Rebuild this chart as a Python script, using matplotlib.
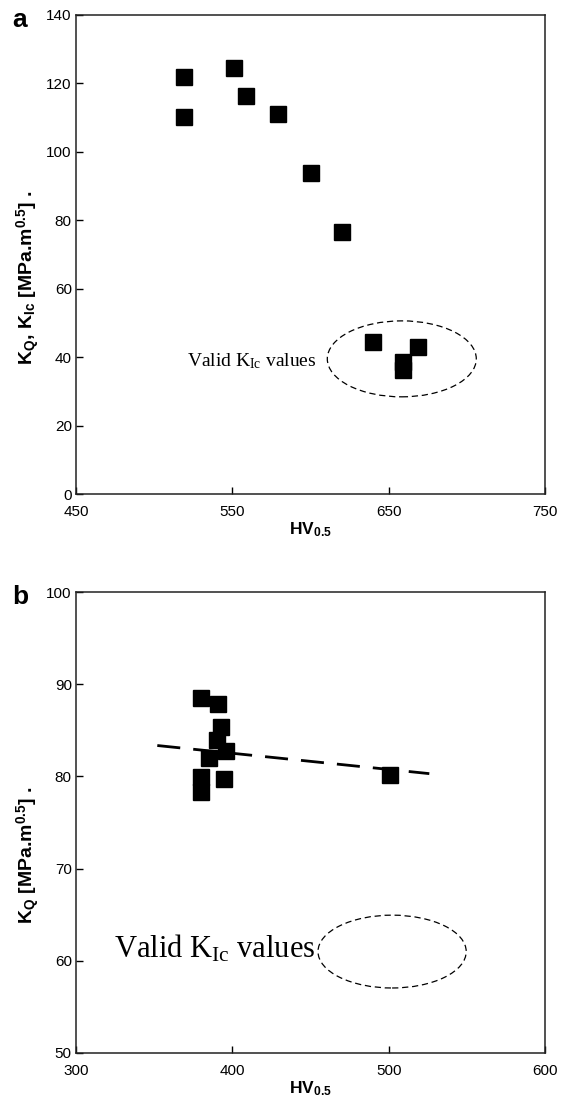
import matplotlib
matplotlib.use("Agg")
import matplotlib.pyplot as plt
from matplotlib.patches import Ellipse

# ---- data ----
hv_a = [519, 519, 551, 559, 579, 600, 620, 640, 659, 659, 669]
k_a = [121.9, 110.2, 124.6, 116.4, 111.1, 93.9, 76.6, 44.4, 38.6, 36.3, 43.0]

hv_b = [380, 391, 393, 390, 396, 385, 380, 380, 394.5, 501]
k_b = [88.5, 87.8, 85.4, 83.9, 82.8, 82.0, 79.9, 78.3, 79.7, 80.2]

fit_x = [352, 526]
fit_y = [83.35, 80.3]

xticks_a = [450, 550, 650, 750]
yticks_a = [0, 20, 40, 60, 80, 100, 120, 140]
xticks_b = [300, 400, 500, 600]
yticks_b = [50, 60, 70, 80, 90, 100]

plt.rcParams['font.family'] = ['Liberation Sans', 'DejaVu Sans']
plt.rcParams['mathtext.fontset'] = 'custom'
plt.rcParams['mathtext.rm'] = 'Liberation Serif'
plt.rcParams['mathtext.bf'] = 'Liberation Sans:bold'
plt.rcParams['mathtext.it'] = 'Liberation Serif:italic'

fig = plt.figure(figsize=(5.61, 11.1), dpi=100)
W, H = 561, 1110
ax1 = fig.add_axes([76 / W, 1 - 494 / H, (545 - 76) / W, (494 - 15) / H])
ax2 = fig.add_axes([76 / W, 1 - 1053 / H, (545 - 76) / W, (1053 - 592) / H])


def style(ax, xt, yt):
    ax.set_xlim(xt[0], xt[-1])
    ax.set_ylim(yt[0], yt[-1])
    ax.set_xticks(xt)
    ax.set_yticks(yt)
    ax.tick_params(direction='in', length=5, width=1.0, labelsize=11,
                   colors='black')
    ax.tick_params(axis='x', pad=8)
    ax.tick_params(axis='y', pad=3)
    for s in ax.spines.values():
        s.set_linewidth(1.1)
        s.set_color('#222222')


style(ax1, xticks_a, yticks_a)
style(ax2, xticks_b, yticks_b)

# panel a
ax1.plot(hv_a, k_a, ls='none', marker='s', ms=11.3, color='black')
ax1.add_patch(Ellipse((658.4, 39.5), 95.3, 22.2, fill=False, ec='black',
                      lw=0.9, ls=(0, (5, 3))))
ax1.text(604.2, 37.4, r'Valid K$_{\mathrm{Ic}}$ values', family='Liberation Serif',
         fontsize=14, ha='right', va='baseline')
ax1.set_xlabel(r'HV$_{\mathbf{0.5}}$', fontsize=12.5, fontweight='bold')
ax1.set_ylabel(r'K$_{\mathbf{Q}}$, K$_{\mathbf{Ic}}$ [MPa.m$^{\mathbf{0.5}}$] .',
               fontsize=14, fontweight='bold')
ax1.yaxis.set_label_coords(-0.072, 0.451)
ax1.xaxis.set_label_coords(0.5, -0.055)
fig.text(20 / W, 1 - 20 / H, 'a', fontsize=19, fontweight='bold', ha='center',
         va='center')

# panel b
ax2.plot(fit_x, fit_y, color='black', lw=2.0, ls=(0, (8.3, 4.7)))
ax2.plot(hv_b, k_b, ls='none', marker='s', ms=12.2, color='black')
ax2.add_patch(Ellipse((502.2, 61.0), 94.8, 7.9, fill=False, ec='black',
                      lw=0.9, ls=(0, (5, 3))))
ax2.text(452.9, 60.4, r'Valid K$_{\mathrm{Ic}}$ values', family='Liberation Serif',
         fontsize=22, ha='right', va='baseline')
ax2.set_xlabel(r'HV$_{\mathbf{0.5}}$', fontsize=12.5, fontweight='bold')
ax2.set_ylabel(r'K$_{\mathbf{Q}}$ [MPa.m$^{\mathbf{0.5}}$] .',
               fontsize=14, fontweight='bold')
ax2.yaxis.set_label_coords(-0.072, 0.43)
ax2.xaxis.set_label_coords(0.5, -0.058)
fig.text(20 / W, 1 - 597 / H, 'b', fontsize=19, fontweight='bold', ha='center',
         va='center')

fig.savefig('out.png', dpi=100)
